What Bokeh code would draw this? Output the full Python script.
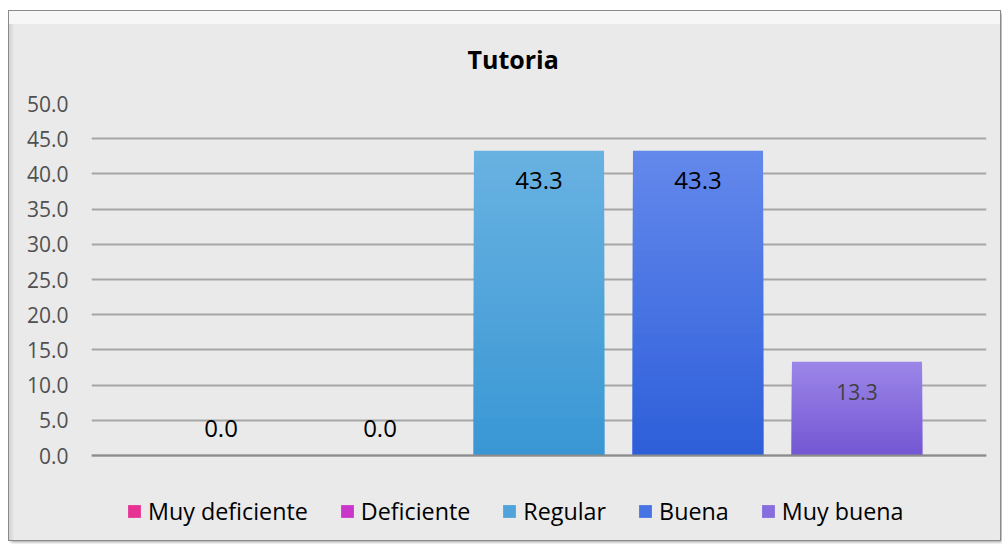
from bokeh.plotting import figure
from bokeh.models import (ColumnDataSource, FactorRange, Range1d, FixedTicker,
                          PrintfTickFormatter, Legend, LegendItem, Span)
from bokeh.core.properties import value
from bokeh.embed import file_html
from bokeh.resources import INLINE

# ---- data ----
categories = ["Muy deficiente", "Deficiente", "Regular", "Buena", "Muy buena"]
values = [0.0, 0.0, 43.3, 43.3, 13.3]
y_ticks = [0, 5, 10, 15, 20, 25, 30, 35, 40, 45, 50]
title_text = "Tutoria"

# ---- styles ----
top_colors = ["#F252A6", "#D851D8", "#69B2E2", "#6489EC", "#9C86E8"]
bottom_colors = ["#DC1480", "#BC1CBC", "#3997D4", "#2D5ED9", "#7356D3"]
label_colors = ["#000000", "#000000", "#000000", "#000000", "#404040"]
label_sizes = ["24px", "24px", "24px", "24px", "21px"]
FONT = "Open Sans"
N = 40


def hex2rgb(h):
    h = h.lstrip("#")
    return tuple(int(h[i:i + 2], 16) for i in (0, 2, 4))


def mix(c1, c2, t):
    a, b = hex2rgb(c1), hex2rgb(c2)
    return "#%02x%02x%02x" % tuple(round(a[i] + (b[i] - a[i]) * t) for i in range(3))


p = figure(width=991, height=529,
           x_range=FactorRange(factors=categories, range_padding=0.1258,
                               range_padding_units="percent"),
           y_range=Range1d(-10.51, 50),
           output_backend="svg", toolbar_location=None,
           min_border_left=82, min_border_right=14,
           min_border_top=92, min_border_bottom=11)
p.styles = {"background": "linear-gradient(to bottom, #F7F7F7 0px, #F7F7F7 13px, "
                          "rgba(234,234,234,0) 13px), "
                          "linear-gradient(to right, #D2D2D2 0px, #E2E2E2 4px, #EAEAEA 5px)",
            "outline": "1px solid #8a8a8a",
            "box-shadow": "2px 2px 3px #9a9a9a",
            "margin-left": "9px", "margin-top": "11px"}
p.background_fill_color = "#EAEAEA"
p.border_fill_alpha = 0
p.outline_line_color = None

# title
p.title.text = title_text
p.title.align = "left"
p.title.offset = 376
p.title.vertical_align = "middle"
p.title.text_font = FONT
p.title.text_font_size = "25px"
p.title.text_font_style = "bold"
p.title.text_color = "#000000"
p.title.standoff = 54

# axes
p.xaxis.visible = False
p.yaxis.ticker = FixedTicker(ticks=y_ticks)
p.yaxis.formatter = PrintfTickFormatter(format="%.1f")
p.yaxis.axis_line_color = None
p.yaxis.major_tick_line_color = None
p.yaxis.minor_tick_line_color = None
p.yaxis.major_tick_out = 0
p.yaxis.major_tick_in = 0
p.yaxis.major_label_standoff = 23
p.yaxis.major_label_text_font = FONT
p.yaxis.major_label_text_font_size = "21px"
p.yaxis.major_label_text_color = "#505050"
p.xgrid.grid_line_color = None
p.ygrid.grid_line_color = "#A6A6A6"
p.ygrid.grid_line_width = 2

# bars with vertical gradient (overlapping shorter bars, darker toward bottom)
legend_items = []
for i, (cat, v) in enumerate(zip(categories, values)):
    xs, tops, cols = [], [], []
    for k in range(N):
        xs.append(cat)
        tops.append(v * (N - k) / N)
        cols.append(mix(top_colors[i], bottom_colors[i], (k + 0.5) / N))
    src = ColumnDataSource(dict(x=xs, top=tops, color=cols))
    r = p.vbar(x="x", top="top", bottom=0, width=0.818, fill_color="color",
               line_color=None, source=src)
    legend_items.append(LegendItem(label=cat, renderers=[r], index=N // 2))

p.add_layout(Span(location=0, dimension="width", line_color="#8C8C8C", line_width=2))

# data labels
lab_src = ColumnDataSource(dict(
    x=categories, y=values,
    text=["%.1f" % v for v in values],
    color=label_colors, size=label_sizes,
    yoff=[30 if v > 0 else -27 for v in values]))
p.text(x="x", y="y", text="text", source=lab_src, text_align="center",
       text_baseline="middle", text_color="color", text_font_size="size",
       text_font=value(FONT), y_offset="yoff")

legend = Legend(items=legend_items, orientation="horizontal", location=(35, 2),
                padding=0, margin=0, spacing=31, glyph_width=16, glyph_height=16,
                label_standoff=6, label_text_font=FONT, label_text_font_size="23.3px",
                label_text_color="#000000", border_line_color=None,
                background_fill_alpha=0)
p.add_layout(legend)

open("out.html", "w").write(file_html(p, INLINE))
